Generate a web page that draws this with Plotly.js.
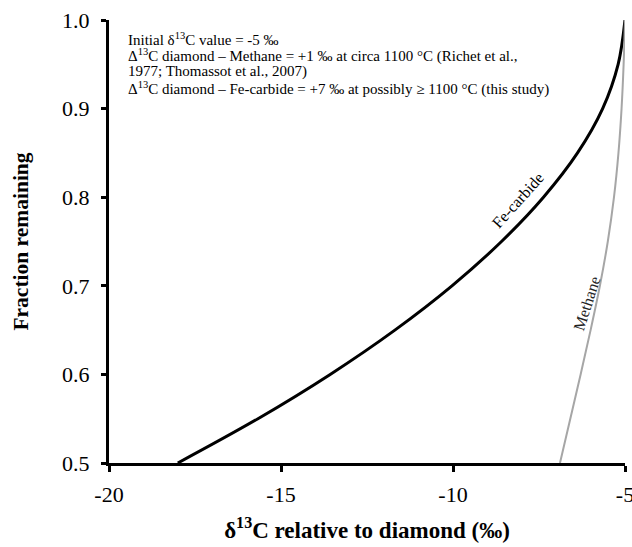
<!DOCTYPE html>
<html>
<head>
<meta charset="utf-8">
<script src="https://cdn.plot.ly/plotly-3.0.1.min.js"></script>
<style>body{margin:0;padding:0;background:#fff}#chart{width:632px;height:547px}</style>
</head>
<body>
<div id="chart"></div>
<script>
// Fe-carbide curve (delta13C relative to diamond vs fraction remaining)
var feCarbideX = [-18.0, -15.67, -13.57, -11.69, -10.03, -8.59, -7.37, -6.38, -5.65, -5.20, -5.0];
var feCarbideY = [0.50, 0.55, 0.60, 0.65, 0.70, 0.75, 0.80, 0.85, 0.90, 0.95, 1.0];
// Methane curve
var methaneX = [-6.89, -6.59, -6.29, -6.00, -5.73, -5.50, -5.32, -5.19, -5.10, -5.04, -5.0];
var methaneY = [0.50, 0.55, 0.60, 0.65, 0.70, 0.75, 0.80, 0.85, 0.90, 0.95, 1.0];
var xTicks = [-20, -15, -10, -5];
var yTicks = [0.5, 0.6, 0.7, 0.8, 0.9, 1.0];
var yTickLabels = ["0.5", "0.6", "0.7", "0.8", "0.9", "1.0"];
var noteLines = [
  "Initial δ<sup>13</sup>C value = -5 ‰",
  "Δ<sup>13</sup>C diamond – Methane = +1 ‰ at circa 1100 °C (Richet et al.,",
  "1977; Thomassot et al., 2007)",
  "Δ<sup>13</sup>C diamond – Fe-carbide = +7 ‰ at possibly ≥ 1100 °C (this study)"
];
var noteY = [0.957, 0.920, 0.883, 0.845];

var serif = "Liberation Serif, Times New Roman, serif";
var traces = [
  {x: feCarbideX, y: feCarbideY, mode: "lines", line: {color: "#000", width: 3, shape: "spline", smoothing: 1}, showlegend: false, hoverinfo: "none", cliponaxis: false},
  {x: methaneX, y: methaneY, mode: "lines", line: {color: "#a6a6a6", width: 2, shape: "spline", smoothing: 1}, showlegend: false, hoverinfo: "none", cliponaxis: false}
];
var annotations = noteLines.map(function (t, i) {
  return {xref: "paper", yref: "paper", x: 0.033, y: noteY[i], xanchor: "left", yanchor: "middle", align: "left",
          text: t, showarrow: false, font: {size: 15, family: serif}};
});
annotations.push({xref: "x", yref: "y", x: -8.12, y: 0.796, text: "Fe-carbide", textangle: -48, showarrow: false, font: {size: 16, family: serif}});
annotations.push({xref: "x", yref: "y", x: -6.11, y: 0.680, text: "Methane", textangle: -72, showarrow: false, font: {size: 16, family: serif, color: "#222"}});

var layout = {
  width: 632, height: 547,
  margin: {l: 109, r: 7, t: 20, b: 84},
  paper_bgcolor: "#fff", plot_bgcolor: "#fff",
  font: {family: serif, color: "#000"},
  xaxis: {
    range: [-20, -5], tickvals: xTicks, ticktext: xTicks.map(String),
    showgrid: false, zeroline: false, showline: true, linecolor: "#000", linewidth: 3,
    ticks: "outside", ticklen: 6, tickwidth: 3, tickcolor: "#000",
    ticklabeloverflow: "allow", ticklabelstandoff: 4,
    tickfont: {size: 22, family: serif},
    title: {text: "<b>δ<sup>13</sup>C relative to diamond (‰)</b>", font: {size: 23, family: serif}, standoff: 16}
  },
  yaxis: {
    range: [0.5, 1.0], tickvals: yTicks, ticktext: yTickLabels,
    showgrid: false, zeroline: false, showline: true, linecolor: "#000", linewidth: 3,
    ticks: "outside", ticklen: 5, tickwidth: 3, tickcolor: "#000",
    ticklabelstandoff: 7,
    tickfont: {size: 22, family: serif},
    title: {text: "<b>Fraction remaining</b>", font: {size: 21.5, family: serif}, standoff: 28}
  },
  annotations: annotations
};
Plotly.newPlot("chart", traces, layout, {displayModeBar: false, staticPlot: true});
</script>
</body>
</html>
